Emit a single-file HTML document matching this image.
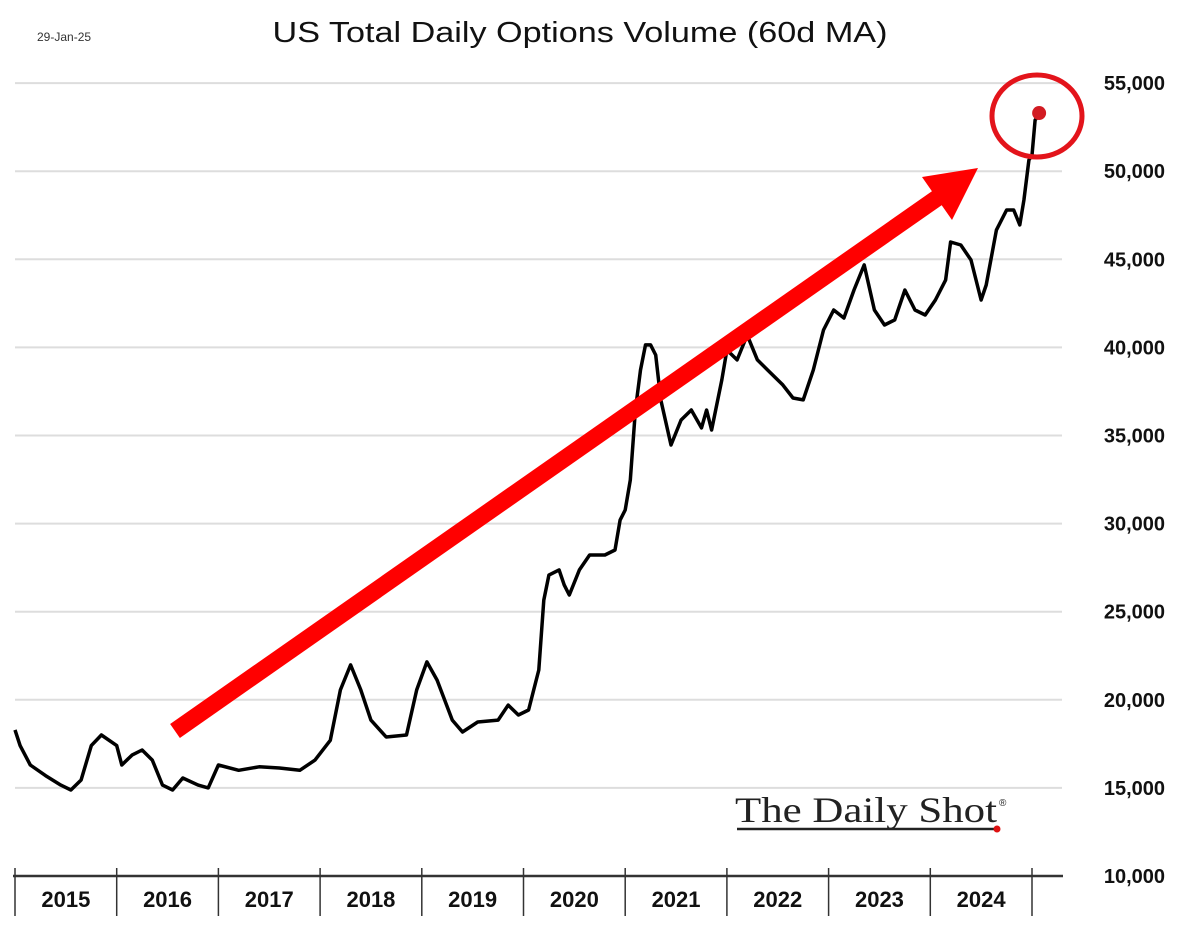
<!DOCTYPE html>
<html><head><meta charset="utf-8"><style>
body{margin:0;background:#fff;}
svg{display:block;font-family:"Liberation Sans",sans-serif;}
</style></head><body>
<svg id="chart" width="1189" height="948" viewBox="0 0 1189 948" xmlns="http://www.w3.org/2000/svg">
<text x="37" y="41" font-size="12" fill="#333">29-Jan-25</text>
<text x="580" y="42" font-size="29" text-anchor="middle" fill="#111" textLength="615" lengthAdjust="spacingAndGlyphs">US Total Daily Options Volume (60d MA)</text>
<g id="grid"></g>
<g id="xaxis"></g>
<g id="yaxis"></g>
<g>
<text x="735" y="822" font-family="Liberation Serif,serif" font-size="36" fill="#222" textLength="262" lengthAdjust="spacingAndGlyphs">The Daily Shot</text>
<text x="999" y="806" font-size="10" fill="#222">®</text>
<line x1="737" y1="829" x2="996" y2="829" stroke="#222" stroke-width="2.5"/>
<circle cx="997" cy="829" r="3.5" fill="#d11"/>
</g>
<path id="series" fill="none" stroke="#000" stroke-width="3.5" stroke-linejoin="round"/>
<g>
<line x1="175" y1="731" x2="940" y2="196" stroke="#f00" stroke-width="17"/>
<polygon points="978,168 922,177 952,220" fill="#f00"/>
</g>
<circle id="lastdot" r="7" fill="#d21b22"/>
<ellipse cx="1037" cy="116" rx="45" ry="41" fill="none" stroke="#e3141b" stroke-width="5"/>
</svg>
<script>
const years=[2015,2016,2017,2018,2019,2020,2021,2022,2023,2024];
const yTicks=[10000,15000,20000,25000,30000,35000,40000,45000,50000,55000];
const dates=[2015.0,2015.05,2015.15,2015.3,2015.45,2015.55,2015.65,2015.75,2015.85,2016.0,2016.05,2016.15,2016.25,2016.35,2016.45,2016.55,2016.65,2016.8,2016.9,2017.0,2017.2,2017.4,2017.6,2017.8,2017.95,2018.1,2018.2,2018.3,2018.4,2018.5,2018.65,2018.85,2018.95,2019.05,2019.15,2019.3,2019.4,2019.55,2019.75,2019.85,2019.95,2020.05,2020.1,2020.15,2020.2,2020.25,2020.35,2020.4,2020.45,2020.55,2020.65,2020.8,2020.9,2020.95,2021.0,2021.05,2021.1,2021.15,2021.2,2021.25,2021.3,2021.35,2021.45,2021.55,2021.65,2021.75,2021.8,2021.85,2021.95,2022.0,2022.1,2022.2,2022.3,2022.4,2022.55,2022.65,2022.75,2022.85,2022.95,2023.05,2023.15,2023.25,2023.35,2023.45,2023.55,2023.65,2023.75,2023.85,2023.95,2024.05,2024.15,2024.2,2024.3,2024.4,2024.5,2024.55,2024.65,2024.75,2024.82,2024.88,2024.92,2024.97,2025.0,2025.03,2025.07];
const volume=[18290,17400,16300,15700,15160,14880,15450,17400,18000,17400,16300,16860,17150,16580,15160,14880,15560,15160,15000,16300,16000,16200,16130,16000,16580,17700,20560,21980,20560,18850,17890,18000,20560,22150,21120,18850,18170,18740,18850,19700,19140,19420,20560,21690,25660,27080,27370,26520,25950,27370,28220,28220,28500,30200,30770,32470,36450,38720,40140,40140,39570,37020,34460,35880,36450,35430,36450,35310,38150,39850,39290,40700,39290,38720,37870,37130,37020,38720,40990,42120,41670,43260,44680,42120,41270,41560,43260,42120,41840,42690,43820,45980,45810,44960,42690,43540,46660,47800,47800,46950,48360,50630,50910,52900,53190];
const latestValue=53300;
const X=t=>15+(t-2015)*101.7;
const Y=v=>876-(v-10000)/5000*88.1;
const NS="http://www.w3.org/2000/svg";
const grid=document.getElementById('grid'),xa=document.getElementById('xaxis'),ya=document.getElementById('yaxis');
yTicks.forEach(v=>{
 if(v>10000){const l=document.createElementNS(NS,'line');
 
 
 l.setAttribute('x1',15);l.setAttribute('x2',1062);l.setAttribute('y1',Y(v));l.setAttribute('y2',Y(v));
 l.setAttribute('stroke','#ddd');l.setAttribute('stroke-width','2');grid.appendChild(l);}
 const t=document.createElementNS(NS,'text');
 
 
 t.setAttribute('x',1165);t.setAttribute('y',Y(v)+7);t.setAttribute('text-anchor','end');
 t.setAttribute('font-size','20');t.setAttribute('font-weight','bold');t.setAttribute('fill','#111');
 t.textContent=v.toLocaleString('en-US');ya.appendChild(t);
});
const ax=document.createElementNS(NS,'line');


ax.setAttribute('x1',13);ax.setAttribute('x2',1063);ax.setAttribute('y1',876);ax.setAttribute('y2',876);
ax.setAttribute('stroke','#333');ax.setAttribute('stroke-width','2.5');xa.appendChild(ax);
for(let i=0;i<=years.length;i++){
 const x=X(2015+i);
 const l=document.createElementNS(NS,'line');
 
 
 l.setAttribute('x1',x);l.setAttribute('x2',x);l.setAttribute('y1',868);l.setAttribute('y2',916);
 l.setAttribute('stroke','#333');l.setAttribute('stroke-width','1.5');xa.appendChild(l);
 if(i<years.length){const t=document.createElementNS(NS,'text');
 
 
 t.setAttribute('x',X(years[i]+0.5));t.setAttribute('y',907);t.setAttribute('text-anchor','middle');
 t.setAttribute('font-size','22');t.setAttribute('font-weight','bold');t.setAttribute('fill','#111');
 t.textContent=years[i];xa.appendChild(t);}
}
document.getElementById('series').setAttribute('d',dates.map((d,i)=>(i?'L':'M')+X(d).toFixed(1)+','+Y(volume[i]).toFixed(1)).join(''));
const dot=document.getElementById('lastdot');
dot.setAttribute('cx',X(dates[dates.length-1]));dot.setAttribute('cy',Y(latestValue));
</script>
</body></html>
